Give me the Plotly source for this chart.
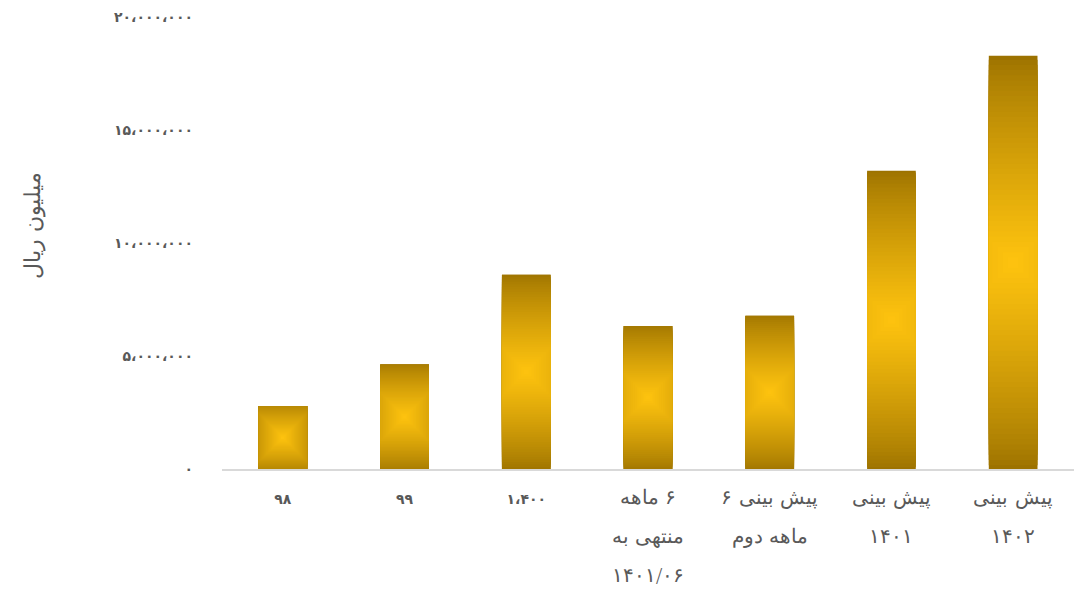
import plotly.graph_objects as go

categories = ["98", "99", "1400", "6m_1401_06", "f_6m_2", "f_1401", "f_1402"]
values = [2790000, 4620000, 8600000, 6330000, 6780000, 13200000, 18280000]
x_label_lines = [
    ["۹۸"],
    ["۹۹"],
    ["۱،۴۰۰"],
    ["۶ ماهه", "منتهی به", "۱۴۰۱/۰۶"],
    ["پیش بینی ۶", "ماهه دوم"],
    ["پیش بینی", "۱۴۰۱"],
    ["پیش بینی", "۱۴۰۲"],
]
y_tickvals = [0, 5000000, 10000000, 15000000, 20000000]
y_ticktext = ["۰", "۵،۰۰۰،۰۰۰", "۱۰،۰۰۰،۰۰۰", "۱۵،۰۰۰،۰۰۰", "۲۰،۰۰۰،۰۰۰"]
y_title = "میلیون ریال"

RLE, PDF = "\u202B", "\u202C"

def fmt_label(lines):
    if len(lines) == 1:
        return f"<span style='font-size:14px;font-weight:bold'>{lines[0]}</span>"
    return "<br>".join(
        f"<span style='font-size:20px;font-weight:200'>{RLE}{ln}{PDF}</span>" for ln in lines
    )

x_labels = [fmt_label(l) for l in x_label_lines]

# styling
BAR_W = 0.4
PX_PER_CAT = 121.7
PX_PER_UNIT = 452 / 20000000
EDGE = (156, 114, 0)
CENTER = (255, 196, 15)
N = 40

def mix(t):
    t = max(0.0, min(1.0, t))
    c = [round(EDGE[j] + (CENTER[j] - EDGE[j]) * t) for j in range(3)]
    return f"rgb({c[0]},{c[1]},{c[2]})"

fig = go.Figure()
wpx = BAR_W * PX_PER_CAT
for k in range(N):
    f = 1 - k / N
    widths, bases, heights, colors = [], [], [], []
    for v in values:
        hpx = v * PX_PER_UNIT
        R = ((wpx / 2) ** 2 + (hpx / 2) ** 2) ** 0.5
        r = R * f
        hw = min(r, wpx / 2)
        hh = min(r, hpx / 2)
        widths.append(2 * hw / PX_PER_CAT)
        bases.append(v / 2 - hh / PX_PER_UNIT)
        heights.append(2 * hh / PX_PER_UNIT)
        colors.append(mix((1 - f) ** 0.8))
    fig.add_trace(go.Bar(
        x=categories, y=heights, base=bases, width=widths,
        marker=dict(color=colors, line=dict(width=0)),
        hoverinfo="skip", showlegend=False,
    ))

fig.update_layout(
    barmode="overlay",
    width=1081, height=584,
    margin=dict(l=214, r=15, t=9, b=123),
    plot_bgcolor="white", paper_bgcolor="white",
    font=dict(family="DejaVu Sans", color="#595959"),
    xaxis=dict(
        tickmode="array", tickvals=categories, ticktext=x_labels,
        tickfont=dict(size=30, color="#595959"),
        showline=True, linecolor="#D9D9D9", linewidth=2,
        showgrid=False, ticks="", tickangle=0, automargin=False,
        ticklabelstandoff=-3,
    ),
    yaxis=dict(
        range=[0, 20000000], tickmode="array",
        tickvals=y_tickvals,
        ticktext=[f"<b>{t}</b>" for t in y_ticktext],
        tickfont=dict(size=14, color="#595959"),
        showgrid=False, zeroline=False, showline=False, ticks="",
        ticklabelstandoff=28, automargin=False,
    ),
    annotations=[dict(
        text=y_title, xref="paper", yref="paper",
        x=-0.222, y=0.54, xanchor="center", yanchor="middle",
        textangle=-90, showarrow=False,
        font=dict(size=22, color="#595959", family="DejaVu Sans", weight=200),
    )],
)

fig.write_html("out.html")
